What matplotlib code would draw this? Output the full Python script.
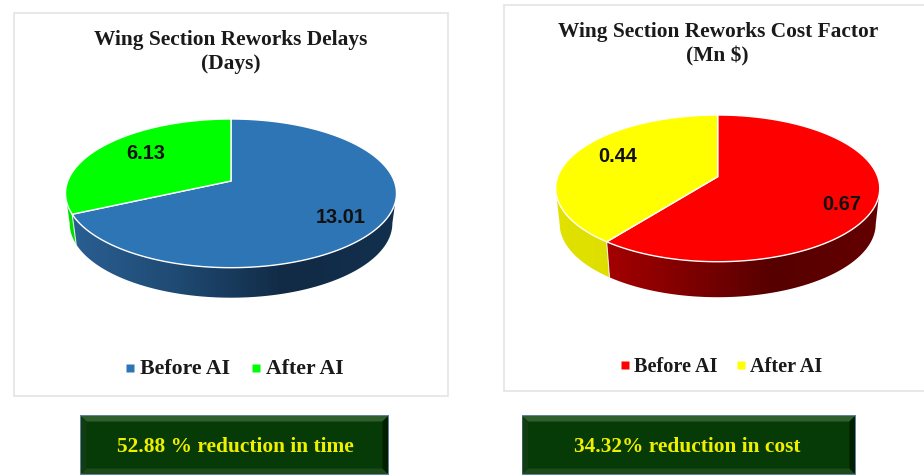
import numpy as np
import matplotlib
matplotlib.use("Agg")
import matplotlib.pyplot as plt
from matplotlib.colors import LinearSegmentedColormap
from matplotlib.patches import Polygon, Rectangle

delay_labels = ["Before AI", "After AI"]
delay_values = [13.01, 6.13]
delay_text = ["13.01", "6.13"]
cost_labels = ["Before AI", "After AI"]
cost_values = [0.67, 0.44]
cost_text = ["0.67", "0.44"]

SERIF = "Liberation Serif"
SANS = "Liberation Sans"

fig = plt.figure(figsize=(9.24, 4.75), dpi=100)
ax = fig.add_axes([0, 0, 1, 1])
ax.set_xlim(0, 924)
ax.set_ylim(475, 0)
ax.axis("off")


def rim(theta, apex, a, b, k):
    # circle seen in perspective, so the apex sits above the ellipse middle
    rad = np.radians(theta)
    w = 1 + k * np.cos(rad)
    return apex[0] + a * np.sin(rad) / w, apex[1] - b * np.cos(rad) / w


def wall(t1, t2, apex, a, b, k, depth, colors, x_range):
    t = np.linspace(t1, t2, 120)
    x, y = rim(t, apex, a, b, k)
    # base is a little smaller than the top
    xb = apex[0] + (x - apex[0]) * 0.975
    yb = y + depth
    pts = np.column_stack([np.r_[x, xb[::-1]], np.r_[y, yb[::-1]]])
    cmap = LinearSegmentedColormap.from_list("w", colors)
    im = ax.imshow(np.linspace(0, 1, 300)[None, :], cmap=cmap, aspect="auto", zorder=2,
                   extent=[x_range[0], x_range[1], 320, 150], interpolation="bilinear")
    clip = Polygon(pts, closed=True, transform=ax.transData, fc="none", ec="none")
    ax.add_patch(clip)
    im.set_clip_path(clip)


def pie3d(values, colors, walls, apex, a, b, k, depth):
    fracs = np.array(values) / np.sum(values)
    edges = np.r_[0, np.cumsum(fracs)] * 360
    first, last = 99.5, 260.5
    x_range = (apex[0] - a * 1.02, apex[0] + a * 1.02)
    for i in range(len(values)):
        t1 = max(edges[i], first)
        t2 = min(edges[i + 1], last)
        if t2 > t1:
            wall(t1, t2, apex, a, b, k, depth, walls[i], x_range)
    # split line between the walls
    bx, by = rim(edges[1], apex, a, b, k)
    ax.plot([bx, apex[0] + (bx - apex[0]) * 0.975], [by, by + depth], color="white", lw=0.8, alpha=0.8, zorder=3)
    for i in range(len(values)):
        t = np.linspace(edges[i], edges[i + 1], 200)
        x, y = rim(t, apex, a, b, k)
        ax.fill(np.r_[apex[0], x], np.r_[apex[1], y], fc=colors[i], ec="white", lw=1.0, zorder=4)


def panel(x0, y0, x1, y1):
    ax.add_patch(Rectangle((x0, y0), x1 - x0, y1 - y0, fc="white", ec="#e4e4e4", lw=1.2, zorder=1))


def title(x, y, txt):
    ax.text(x, y + 1.5, txt, family=SERIF, weight="bold", fontsize=15.4, color="#1a1a1a",
            ha="center", va="center", zorder=5)


def label(x, y, txt):
    ax.text(x, y + 1.5, txt, family=SANS, weight="bold", fontsize=14.3, color="#111111",
            ha="center", va="center", zorder=6)


def button(x0, y0, x1, y1, txt, tx):
    e = 5.5
    ax.add_patch(Rectangle((x0, y0), x1 - x0, y1 - y0, fc="#063a06", ec="#5d7f9e", lw=1.4, zorder=1))
    ax.fill([x0, x1, x1 - e, x0 + e], [y0, y0, y0 + e, y0 + e], fc="#2f5f2f", lw=0, zorder=2)
    ax.fill([x0, x1, x1 - e, x0 + e], [y1, y1, y1 - e, y1 - e], fc="#1c4a1c", lw=0, zorder=2)
    ax.fill([x0, x0 + e, x0 + e, x0], [y0, y0 + e, y1 - e, y1], fc="#123c12", lw=0, zorder=2)
    ax.fill([x1, x1 - e, x1 - e, x1], [y0, y0 + e, y1 - e, y1], fc="#021f02", lw=0, zorder=2)
    ax.text(tx, 447, txt, color="#eef000", family=SERIF, weight="bold", fontsize=15.4,
            ha="center", va="center", zorder=5)


def legend(items, y, size):
    for mx, tx, color, txt in items:
        ax.plot(mx, y, marker="s", ms=5.2, color=color, mec="none", zorder=5)
        ax.text(tx, y + 1.5, txt, family=SERIF, weight="bold", fontsize=size, color="#1a1a1a",
                ha="left", va="center", zorder=5)


# left chart
panel(14, 13, 448, 396)
title(231, 38, "Wing Section Reworks Delays")
title(231, 62, "(Days)")
pie3d(delay_values, ["#2e75b6", "#00ff00"],
      [["#2a6094", "#1f4a73", "#112a45", "#12304e"], ["#00e000", "#00e000"]],
      (231, 181), 163.2, 72.3, 0.166, 30)
label(341, 216, delay_text[0])
label(146, 152, delay_text[1])
legend([(129.5, 140, "#2e75b6", delay_labels[0]), (255.5, 266, "#00ff00", delay_labels[1])], 368, 15.7)
button(81, 416, 388, 474, "52.88 % reduction in time", 235)

# right chart
panel(504, 5, 930, 391)
title(717.7, 30.5, "Wing Section Reworks Cost Factor")
title(717.7, 55, "(Mn $)")
pie3d(cost_values, ["#ff0000", "#ffff00"],
      [["#bb0000", "#8a0000", "#560000", "#640000"], ["#e2e200", "#c8c800"]],
      (717.7, 176.7), 160, 71.5, 0.159, 35.5)
label(842, 203.5, cost_text[0])
label(618, 154.5, cost_text[1])
legend([(625, 634.5, "#ff0000", cost_labels[0]), (740.5, 750, "#ffff00", cost_labels[1])], 365, 14.6)
button(522.5, 416, 855, 474, "34.32% reduction in cost", 687.5)

ax.set_xlim(0, 924)
ax.set_ylim(475, 0)
fig.savefig("out.png", dpi=100)
